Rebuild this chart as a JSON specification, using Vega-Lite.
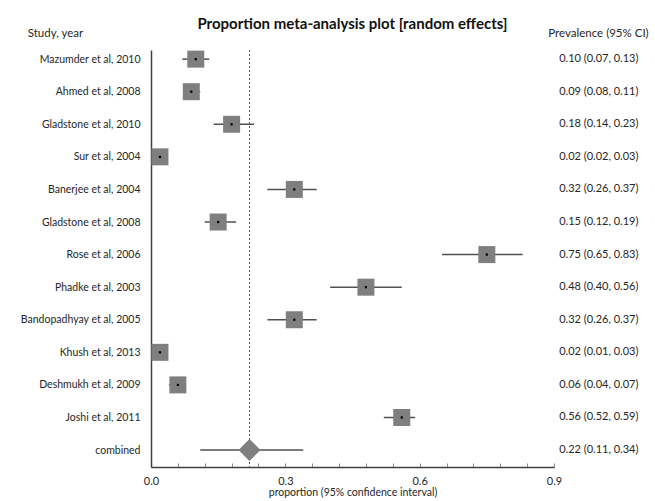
{
  "$schema": "https://vega.github.io/schema/vega-lite/v6.json",
  "width": 403,
  "height": 417,
  "autosize": {"type": "none"},
  "padding": {"left": 151, "top": 50, "right": 101, "bottom": 34},
  "background": "white",
  "title": {
    "text": "Proportion meta-analysis plot [random effects]",
    "fontSize": 15,
    "fontWeight": "bold",
    "font": "Lato",
    "color": "#111111",
    "anchor": "middle",
    "offset": -5
  },
  "config": {
    "font": "Lato",
    "view": {"stroke": null},
    "axisX": {
      "titleFontSize": 10.5,
      "titleFontWeight": "normal",
      "titleColor": "#262626",
      "titlePadding": 1,
      "labelOverlap": false,
      "labelFlush": false,
      "labelFontSize": 11,
      "labelColor": "#262626",
      "labelPadding": 12,
      "tickSize": -4,
      "tickWidth": 1,
      "tickColor": "#8a8a8a",
      "domainColor": "#404040",
      "domainWidth": 1.5,
      "grid": false
    }
  },
  "data": {
    "values": [
      {"study": "Mazumder et al, 2010", "est": 0.10, "lo": 0.07, "hi": 0.13, "label": "0.10 (0.07, 0.13)", "type": "study"},
      {"study": "Ahmed et al, 2008", "est": 0.09, "lo": 0.08, "hi": 0.11, "label": "0.09 (0.08, 0.11)", "type": "study"},
      {"study": "Gladstone et al, 2010", "est": 0.18, "lo": 0.14, "hi": 0.23, "label": "0.18 (0.14, 0.23)", "type": "study"},
      {"study": "Sur et al, 2004", "est": 0.02, "lo": 0.02, "hi": 0.03, "label": "0.02 (0.02, 0.03)", "type": "study"},
      {"study": "Banerjee et al, 2004", "est": 0.32, "lo": 0.26, "hi": 0.37, "label": "0.32 (0.26, 0.37)", "type": "study"},
      {"study": "Gladstone et al, 2008", "est": 0.15, "lo": 0.12, "hi": 0.19, "label": "0.15 (0.12, 0.19)", "type": "study"},
      {"study": "Rose et al, 2006", "est": 0.75, "lo": 0.65, "hi": 0.83, "label": "0.75 (0.65, 0.83)", "type": "study"},
      {"study": "Phadke et al, 2003", "est": 0.48, "lo": 0.40, "hi": 0.56, "label": "0.48 (0.40, 0.56)", "type": "study"},
      {"study": "Bandopadhyay et al, 2005", "est": 0.32, "lo": 0.26, "hi": 0.37, "label": "0.32 (0.26, 0.37)", "type": "study"},
      {"study": "Khush et al, 2013", "est": 0.02, "lo": 0.01, "hi": 0.03, "label": "0.02 (0.01, 0.03)", "type": "study"},
      {"study": "Deshmukh et al, 2009", "est": 0.06, "lo": 0.04, "hi": 0.07, "label": "0.06 (0.04, 0.07)", "type": "study"},
      {"study": "Joshi et al, 2011", "est": 0.56, "lo": 0.52, "hi": 0.59, "label": "0.56 (0.52, 0.59)", "type": "study"},
      {"study": "combined", "est": 0.22, "lo": 0.11, "hi": 0.34, "label": "0.22 (0.11, 0.34)", "type": "combined"}
    ]
  },
  "resolve": {"axis": {"y": "independent"}},
  "layer": [
    {
      "mark": {"type": "rule", "color": "#555555", "strokeWidth": 1, "strokeDash": [2, 2]},
      "encoding": {
        "x": {
          "datum": 0.22, "type": "quantitative",
          "scale": {"domain": [0, 0.9], "nice": false, "zero": false},
          "axis": {
            "title": "proportion (95% confidence interval)",
            "values": [0, 0.06, 0.12, 0.18, 0.24, 0.3, 0.36, 0.42, 0.48, 0.54, 0.6, 0.66, 0.72, 0.78, 0.84, 0.9],
            "labelExpr": "(datum.value == 0 || datum.value == 0.3 || datum.value == 0.6 || datum.value == 0.9) ? format(datum.value, '.1f') : ''"
          }
        }
      }
    },
    {
      "mark": {"type": "rule", "color": "#505050", "strokeWidth": 1.5},
      "encoding": {
        "y": {
          "field": "study", "type": "nominal", "sort": null,
          "scale": {"type": "point", "padding": 0.4, "align": 0.35},
          "axis": {
            "orient": "left",
            "title": "Study, year",
            "titleAngle": 0,
            "titleAlign": "center",
            "titleBaseline": "alphabetic",
            "titleX": -96,
            "titleY": -14,
            "titleFontSize": 11.5,
            "titleFontWeight": "normal",
            "titleColor": "#262626",
            "labelFontSize": 10.5,
            "labelColor": "#262626",
            "labelPadding": 11,
            "ticks": false,
            "domainColor": "#404040",
            "domainWidth": 1.5,
            "grid": false
          }
        },
        "x": {
          "field": "lo", "type": "quantitative",
          "axis": {
            "title": "proportion (95% confidence interval)",
            "values": [0, 0.06, 0.12, 0.18, 0.24, 0.3, 0.36, 0.42, 0.48, 0.54, 0.6, 0.66, 0.72, 0.78, 0.84, 0.9],
            "labelExpr": "(datum.value == 0 || datum.value == 0.3 || datum.value == 0.6 || datum.value == 0.9) ? format(datum.value, '.1f') : ''"
          }
        },
        "x2": {"field": "hi"}
      }
    },
    {
      "transform": [{"filter": "datum.type == 'study'"}],
      "mark": {"type": "point", "shape": "square", "filled": true, "size": 289, "color": "#7f7f7f", "opacity": 1},
      "encoding": {
        "y": {"field": "study", "type": "nominal", "sort": null, "axis": null},
        "x": {
          "field": "est", "type": "quantitative",
          "axis": {
            "title": "proportion (95% confidence interval)",
            "values": [0, 0.06, 0.12, 0.18, 0.24, 0.3, 0.36, 0.42, 0.48, 0.54, 0.6, 0.66, 0.72, 0.78, 0.84, 0.9],
            "labelExpr": "(datum.value == 0 || datum.value == 0.3 || datum.value == 0.6 || datum.value == 0.9) ? format(datum.value, '.1f') : ''"
          }
        }
      }
    },
    {
      "transform": [{"filter": "datum.type == 'study'"}],
      "mark": {"type": "point", "shape": "square", "filled": true, "size": 5, "color": "#000000", "opacity": 1},
      "encoding": {
        "y": {"field": "study", "type": "nominal", "sort": null, "axis": null},
        "x": {
          "field": "est", "type": "quantitative",
          "axis": {
            "title": "proportion (95% confidence interval)",
            "values": [0, 0.06, 0.12, 0.18, 0.24, 0.3, 0.36, 0.42, 0.48, 0.54, 0.6, 0.66, 0.72, 0.78, 0.84, 0.9],
            "labelExpr": "(datum.value == 0 || datum.value == 0.3 || datum.value == 0.6 || datum.value == 0.9) ? format(datum.value, '.1f') : ''"
          }
        }
      }
    },
    {
      "transform": [{"filter": "datum.type == 'combined'"}],
      "mark": {"type": "point", "shape": "diamond", "filled": true, "size": 484, "color": "#7f7f7f", "opacity": 1},
      "encoding": {
        "y": {"field": "study", "type": "nominal", "sort": null, "axis": null},
        "x": {
          "field": "est", "type": "quantitative",
          "axis": {
            "title": "proportion (95% confidence interval)",
            "values": [0, 0.06, 0.12, 0.18, 0.24, 0.3, 0.36, 0.42, 0.48, 0.54, 0.6, 0.66, 0.72, 0.78, 0.84, 0.9],
            "labelExpr": "(datum.value == 0 || datum.value == 0.3 || datum.value == 0.6 || datum.value == 0.9) ? format(datum.value, '.1f') : ''"
          }
        }
      }
    },
    {
      "mark": {"type": "text", "align": "center", "baseline": "middle", "fontSize": 11, "color": "#262626"},
      "encoding": {
        "y": {
          "field": "study", "type": "nominal", "sort": null,
          "axis": {
            "orient": "right",
            "title": "Prevalence (95% CI)",
            "titleAngle": 0,
            "titleAlign": "center",
            "titleBaseline": "alphabetic",
            "titleX": 44,
            "titleY": -14,
            "titleFontSize": 11.5,
            "titleFontWeight": "normal",
            "titleColor": "#262626",
            "labels": false,
            "ticks": false,
            "domain": false,
            "grid": false
          }
        },
        "x": {
          "datum": 1.0, "type": "quantitative",
          "axis": {
            "title": "proportion (95% confidence interval)",
            "values": [0, 0.06, 0.12, 0.18, 0.24, 0.3, 0.36, 0.42, 0.48, 0.54, 0.6, 0.66, 0.72, 0.78, 0.84, 0.9],
            "labelExpr": "(datum.value == 0 || datum.value == 0.3 || datum.value == 0.6 || datum.value == 0.9) ? format(datum.value, '.1f') : ''"
          }
        },
        "text": {"field": "label"}
      }
    }
  ]
}
